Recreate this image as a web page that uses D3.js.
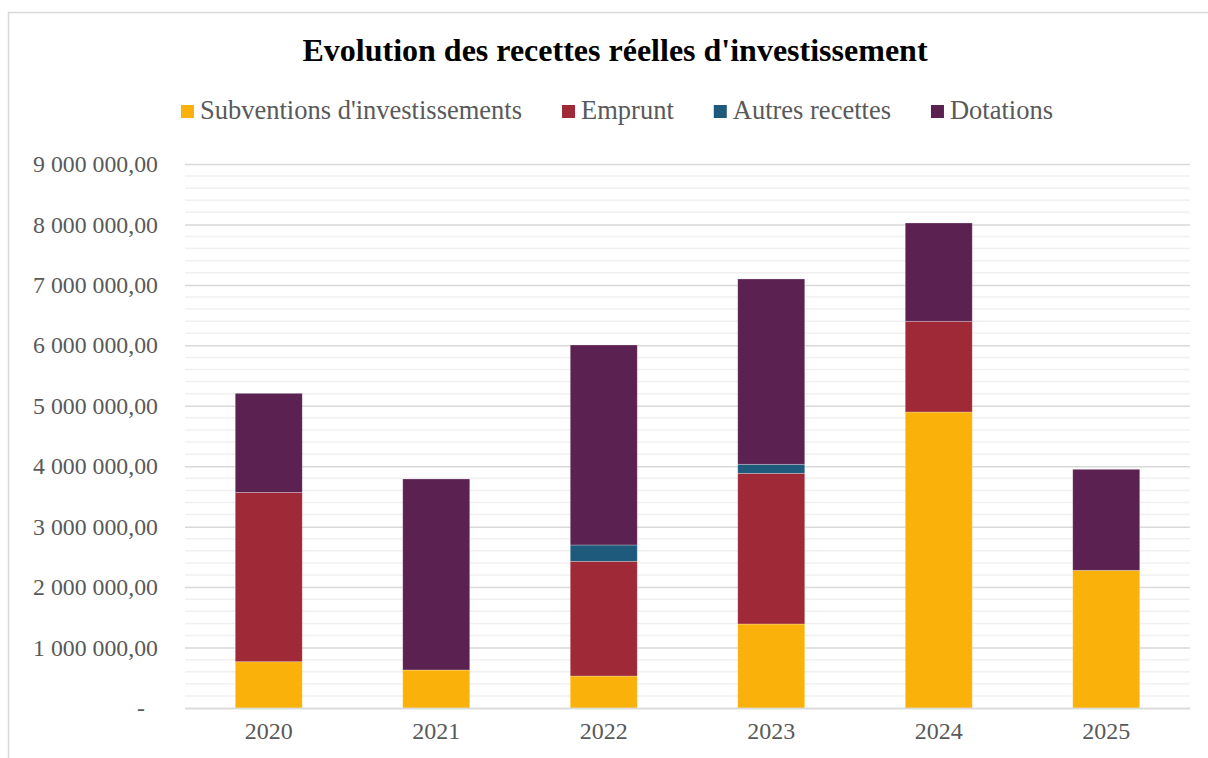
<!DOCTYPE html>
<html lang="fr">
<head>
<meta charset="utf-8"/>
<title>Evolution des recettes réelles d'investissement</title>
<style>
  * { margin: 0; padding: 0; }
  body { background: #fff; }
  svg { display: block; font-family: "Liberation Serif", "Times New Roman", serif; }
  .tick text { fill: #595959; }
</style>
<script src="https://d3js.org/d3.v7.min.js"></script>
</head>
<body>
<svg id="chart" width="1208" height="758"></svg>
<script>
// data
const years = ["2020", "2021", "2022", "2023", "2024", "2025"];
const seriesNames = ["Subventions d'investissements", "Emprunt", "Autres recettes", "Dotations"];
const subventions = [766000, 629000, 529000, 1390000, 4897000, 2278000];
const emprunt     = [2800000, 0, 1898000, 2493000, 1501000, 0];
const autres      = [0, 0, 270000, 149000, 0, 0];
const dotations   = [1640000, 3160000, 3309000, 3066000, 1626000, 1671000];
const yTicks = [0, 1000000, 2000000, 3000000, 4000000, 5000000, 6000000, 7000000, 8000000, 9000000];
const colors = ["#FAB20B", "#9F2936", "#1E5A7B", "#5B2150"];

const plot = { left: 185, right: 1190, top: 164, bottom: 708 };
const centerX = 617;

const svg = d3.select("#chart");

// chart frame (extends past the window, like the reference crop)
svg.append("rect")
  .attr("x", 8.5).attr("y", 12.5)
  .attr("width", 1300).attr("height", 900)
  .attr("fill", "#fff")
  .attr("stroke", "#d9d9d9")
  .attr("stroke-width", 1.5);

const table = years.map((y, i) => ({
  year: y,
  s0: subventions[i], s1: emprunt[i], s2: autres[i], s3: dotations[i]
}));
const stack = d3.stack().keys(["s0", "s1", "s2", "s3"])(table);

const x = d3.scaleBand()
  .domain(years)
  .range([plot.left, plot.right])
  .paddingInner(0.6)
  .paddingOuter(0.3);

const y = d3.scaleLinear()
  .domain([0, 9000000])
  .range([plot.bottom, plot.top]);

// minor gridlines
const minor = d3.range(0, 9000001, 200000).filter(v => v % 1000000 !== 0);
svg.append("g")
  .selectAll("line")
  .data(minor)
  .enter().append("line")
  .attr("x1", plot.left).attr("x2", plot.right)
  .attr("y1", d => y(d)).attr("y2", d => y(d))
  .attr("stroke", "#f0f0f0")
  .attr("stroke-width", 1.5);

// y axis with major gridlines
const fr = d3.formatLocale({ decimal: ",", thousands: "\u00a0", grouping: [3], currency: ["", ""] });
const fmt = fr.format(",.2f");
const yAxis = svg.append("g")
  .attr("transform", `translate(${plot.left},0)`)
  .call(d3.axisLeft(y)
    .tickValues(yTicks)
    .tickSize(-(plot.right - plot.left))
    .tickPadding(27)
    .tickFormat(d => d === 0 ? "-" : fmt(d)))
  .attr("font-family", null);
yAxis.select(".domain").remove();
yAxis.selectAll(".tick line")
  .attr("stroke", "#d9d9d9")
  .attr("stroke-width", 1.5);
yAxis.selectAll(".tick text")
  .attr("font-size", "23.8px")
  .attr("dx", d => d === 0 ? "-13" : "0");

// stacked bars
svg.append("g")
  .selectAll("g")
  .data(stack)
  .enter().append("g")
  .attr("fill", (d, i) => colors[i])
  .selectAll("rect")
  .data(d => d.filter(p => p[1] > p[0]))
  .enter().append("rect")
  .attr("x", d => x(d.data.year))
  .attr("width", x.bandwidth())
  .attr("y", d => y(d[1]))
  .attr("height", d => y(d[0]) - y(d[1]))
  .attr("stroke", "#ffffff")
  .attr("stroke-opacity", 0.35)
  .attr("stroke-width", 0.75);

// x axis
const xAxis = svg.append("g")
  .attr("transform", `translate(0,${plot.bottom})`)
  .call(d3.axisBottom(x).tickSize(0).tickPadding(14))
  .attr("font-family", null);
xAxis.select(".domain")
  .attr("stroke", "#d9d9d9")
  .attr("stroke-width", 1.5);
xAxis.selectAll(".tick text").attr("font-size", "24px");

// title
svg.append("text")
  .attr("x", centerX - 2)
  .attr("y", 61)
  .attr("text-anchor", "middle")
  .attr("font-size", "32px")
  .attr("font-weight", "bold")
  .attr("fill", "#000")
  .text("Evolution des recettes réelles d'investissement");

// legend
const legend = svg.append("g");
const items = legend.selectAll("g")
  .data(seriesNames)
  .enter().append("g");
items.append("rect")
  .attr("width", 13).attr("height", 13)
  .attr("y", 105)
  .attr("fill", (d, i) => colors[i]);
items.append("text")
  .attr("x", 19)
  .attr("y", 119)
  .attr("font-size", "26.5px")
  .attr("fill", "#595959")
  .text(d => d);

const widths = [];
items.each(function () {
  widths.push(19 + d3.select(this).select("text").node().getComputedTextLength());
});
const gap = 40;
const total = d3.sum(widths) + gap * (widths.length - 1);
let cursor = centerX - total / 2;
items.attr("transform", (d, i) => {
  const t = `translate(${cursor},0)`;
  cursor += widths[i] + gap;
  return t;
});
</script>
</body>
</html>
